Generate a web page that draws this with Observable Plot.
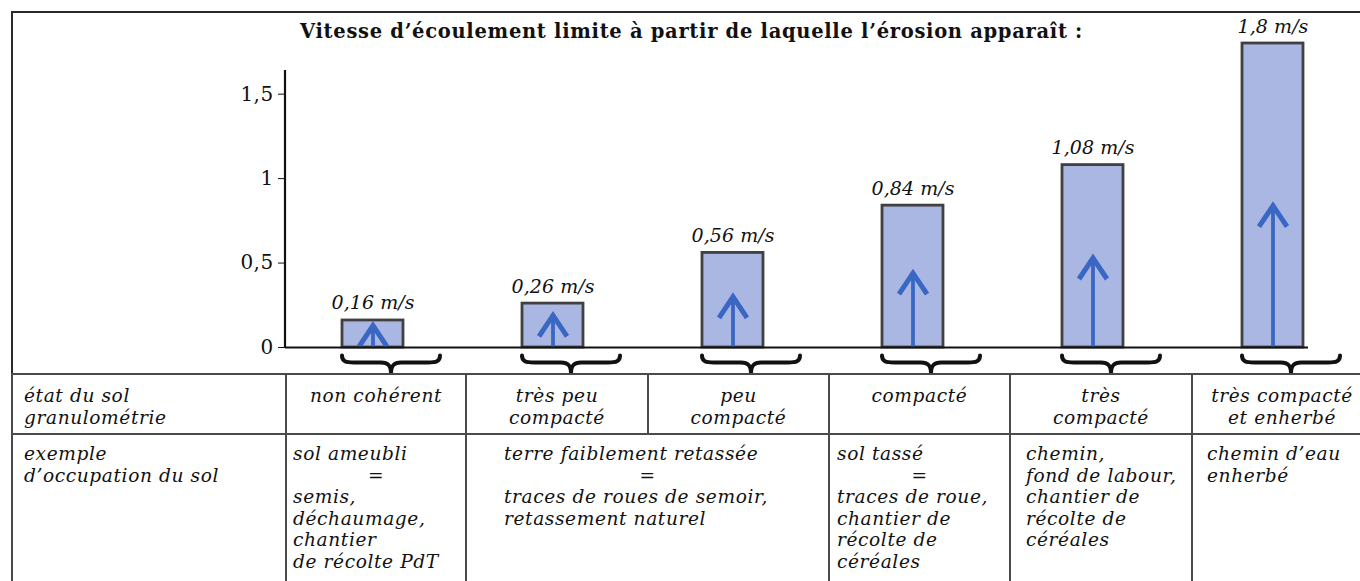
<!DOCTYPE html>
<html>
<head>
<meta charset="utf-8">
<script src="https://cdn.jsdelivr.net/npm/d3@7"></script>
<script src="https://cdn.jsdelivr.net/npm/@observablehq/plot@0.6"></script>
<style>
  body { margin: 0; background: #fff; }
  #wrap { position: relative; width: 1360px; height: 581px; overflow: hidden; color: #111; }
  #frame { position: absolute; left: 11px; top: 11px; width: 1400px; height: 620px; border-left: 2px solid #2a2a2a; border-top: 2px solid #2a2a2a; box-sizing: border-box; }
  #chart { position: absolute; left: 0; top: 0; }
  #title { position: absolute; left: 300px; top: 22px; margin: 0; font-weight: bold; line-height: 20px; white-space: nowrap; z-index: 2; }
  #tbl { position: absolute; left: 11px; top: 373px; border-collapse: collapse; table-layout: fixed; width: 1360px; font-style: italic; line-height: 21.5px; }
  #tbl td { border: 2px solid #4a4a4a; vertical-align: top; padding: 0; white-space: nowrap; overflow: visible; }
  #tbl tr.r1 td { height: 48px; padding-top: 10px; text-align: center; }
  #tbl tr.r2 td { height: 160px; padding-top: 8px; }
  #tbl .ln { display: block; }
  #tbl .eq { text-align: center; }
</style>
</head>
<body>
<div id="wrap">
  <div id="frame"></div>
  <div id="chart"></div>
  <h2 id="title"></h2>
  <table id="tbl"></table>
</div>
<script>
// ---------- data ----------
const titleText = "Vitesse d’écoulement limite à partir de laquelle l’érosion apparaît :";
const categories = ["non cohérent", "très peu compacté", "peu compacté", "compacté", "très compacté", "très compacté et enherbé"];
const speeds = [0.16, 0.26, 0.56, 0.84, 1.08, 1.8];
const speedLabels = ["0,16 m/s", "0,26 m/s", "0,56 m/s", "0,84 m/s", "1,08 m/s", "1,8 m/s"];
const arrowTips = [0.13, 0.19, 0.30, 0.44, 0.53, 0.84];
const yTicks = [0, 0.5, 1, 1.5];
const yTickLabels = ["0", "0,5", "1", "1,5"];
const yAxisTop = 1.64;

const stateHeader = ["état du sol", "granulométrie"];
const soilStates = [["non cohérent"], ["très peu", "compacté"], ["peu", "compacté"], ["compacté"], ["très", "compacté"], ["très compacté", "et enherbé"]];
const usageHeader = ["exemple", "d’occupation du sol"];
const usageExamples = [
  ["sol ameubli", "=", "semis,", "déchaumage,", "chantier", "de récolte PdT"],
  ["terre faiblement retassée", "=", "traces de roues de semoir,", "retassement naturel"],
  ["sol tassé", "=", "traces de roue,", "chantier de", "récolte de", "céréales"],
  ["chemin,", "fond de labour,", "chantier de", "récolte de", "céréales"],
  ["chemin d’eau", "enherbé"]
];
const usageSpans = [1, 2, 1, 1, 1];

// ---------- font selection & fitting ----------
const ctx2d = document.createElement("canvas").getContext("2d");
function hasFont(name) {
  const s = "abcdefghijklmnopqrstuvwxyz0123456789ABCDEFGH";
  ctx2d.font = "40px monospace";
  const a = ctx2d.measureText(s).width;
  ctx2d.font = `40px "${name}", monospace`;
  const b = ctx2d.measureText(s).width;
  return Math.abs(a - b) > 0.5;
}
const haveDV = hasFont("DejaVu Serif");
const FONT = haveDV ? "DejaVu Serif" : "Liberation Serif";
const sizes = haveDV ? {title: 19.5, tick: 20, value: 19, table: 18.6} : {title: 21, tick: 21, value: 20.5, table: 20};
function spacing(text, font, target) {
  ctx2d.font = font;
  const w = ctx2d.measureText(text).width;
  return Math.max(-1, Math.min(1.2, (target - w) / text.length));
}
const titleLS = spacing(titleText, `bold ${sizes.title}px "${FONT}"`, 783);
const tickLS = spacing("1,5", `${sizes.tick}px "${FONT}"`, 33);
const valueLS = spacing("0,16 m/s", `italic ${sizes.value}px "${FONT}"`, 83);
const tableLS = spacing("d’occupation du sol", `italic ${sizes.table}px "${FONT}"`, 195);

// ---------- chart ----------
const rows = categories.map((c, i) => ({cat: c, v: speeds[i], label: speedLabels[i], tip: arrowTips[i]}));

const chevron = {
  draw(ctx) {
    ctx.moveTo(-14, 21);
    ctx.lineTo(0, 0);
    ctx.lineTo(14, 21);
  }
};
const brace = {
  draw(ctx) {
    ctx.moveTo(-49, 8);
    ctx.bezierCurveTo(-49, 14, -45, 15, -37, 15);
    ctx.lineTo(-10, 15);
    ctx.bezierCurveTo(-3, 15, 0, 18, 0, 26);
    ctx.bezierCurveTo(0, 18, 3, 15, 10, 15);
    ctx.lineTo(37, 15);
    ctx.bezierCurveTo(45, 15, 49, 14, 49, 8);
  }
};

function yAxisLine(index, scales, values, dims) {
  const ns = "http://www.w3.org/2000/svg";
  const line = document.createElementNS(ns, "line");
  line.setAttribute("x1", dims.marginLeft);
  line.setAttribute("x2", dims.marginLeft);
  line.setAttribute("y1", scales.y(0) + 1);
  line.setAttribute("y2", scales.y(yAxisTop));
  line.setAttribute("stroke", "#111");
  line.setAttribute("stroke-width", 2.2);
  return line;
}

const chart = Plot.plot({
  width: 1360,
  height: 374,
  marginLeft: 285,
  marginRight: 0,
  marginTop: 43,
  marginBottom: 27,
  style: {background: "transparent", fontFamily: `"${FONT}", serif`, fontSize: sizes.tick + "px", color: "#111", overflow: "visible"},
  x: {type: "band", domain: categories, paddingInner: 0.66, paddingOuter: 0.3, axis: null},
  y: {domain: [0, 1.8], ticks: yTicks, tickFormat: d => yTickLabels[yTicks.indexOf(d)], tickSize: 7, tickPadding: 5, label: null},
  marks: [
    Plot.barY(rows, {x: "cat", y: "v", fill: "#aab7e2", stroke: "#404040", strokeWidth: 2.8}),
    Plot.ruleX(rows, {x: "cat", y1: 0, y2: "tip", stroke: "#3a66c4", strokeWidth: 3.8}),
    Plot.dot(rows, {x: "cat", y: "tip", symbol: chevron, fill: "none", stroke: "#3a66c4", strokeWidth: 5}),
    Plot.ruleY([0], {insetRight: 52, stroke: "#111", strokeWidth: 2.2}),
    yAxisLine,
    Plot.dot(rows, {x: "cat", y: () => 0, symbol: brace, dx: 18, fill: "none", stroke: "#111", strokeWidth: 4, strokeLinecap: "round"}),
    Plot.text(rows, {x: "cat", y: "v", text: "label", dy: -11, lineAnchor: "bottom", fontSize: sizes.value, fontStyle: "italic", fill: "#111"})
  ]
});
d3.select(chart).selectAll('g[aria-label="text"] text').style("letter-spacing", valueLS + "px");
d3.select(chart).selectAll('g[aria-label="y-axis tick label"] text, g[aria-label="y-axis"] text').style("letter-spacing", tickLS + "px");
document.getElementById("chart").appendChild(chart);

const title = document.getElementById("title");
title.textContent = titleText;
title.style.fontFamily = `"${FONT}", serif`;
title.style.fontSize = sizes.title + "px";
title.style.letterSpacing = titleLS + "px";

// ---------- table ----------
const colWidths = [274, 180, 182, 181, 181, 182, 180];
const usagePad = [6, 37, 7, 15, 14];
const tbl = document.getElementById("tbl");
tbl.style.fontFamily = `"${FONT}", serif`;
tbl.style.fontSize = sizes.table + "px";
tbl.style.letterSpacing = tableLS + "px";
const cg = document.createElement("colgroup");
colWidths.forEach(w => { const c = document.createElement("col"); c.style.width = w + "px"; cg.appendChild(c); });
tbl.appendChild(cg);

function cell(lines, opts = {}) {
  const td = document.createElement("td");
  if (opts.span) td.colSpan = opts.span;
  lines.forEach(t => {
    const s = document.createElement("span");
    s.className = "ln" + (t === "=" ? " eq" : "");
    s.textContent = t;
    if (opts.pad != null && t !== "=") s.style.paddingLeft = opts.pad + "px";
    if (opts.left) s.style.textAlign = "left";
    td.appendChild(s);
  });
  return td;
}
const r1 = document.createElement("tr"); r1.className = "r1";
r1.appendChild(cell(stateHeader, {pad: 11, left: true}));
soilStates.forEach(s => r1.appendChild(cell(s)));
tbl.appendChild(r1);
const r2 = document.createElement("tr"); r2.className = "r2";
r2.appendChild(cell(usageHeader, {pad: 11}));
usageExamples.forEach((u, i) => r2.appendChild(cell(u, {span: usageSpans[i], pad: usagePad[i]})));
tbl.appendChild(r2);
</script>
</body>
</html>
